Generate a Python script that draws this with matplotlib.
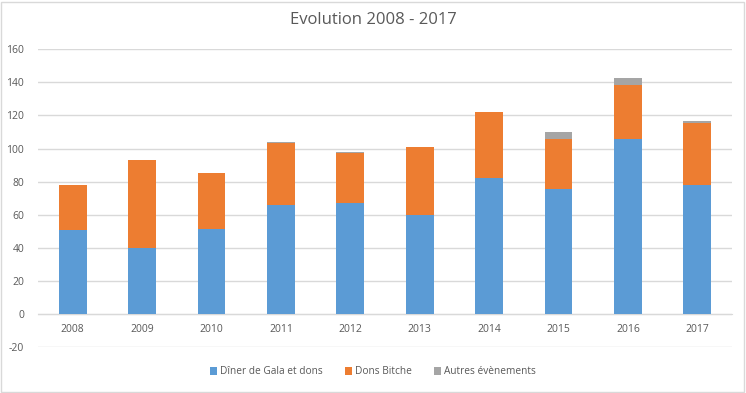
import numpy as np
import matplotlib.pyplot as plt
from matplotlib.patches import Rectangle

years = ['2008', '2009', '2010', '2011', '2012', '2013', '2014', '2015', '2016', '2017']
diner_gala = [51, 40, 51.4, 66, 67, 60, 82.4, 75.6, 105.8, 78]
dons_bitche = [27, 53, 33.8, 37.5, 30, 41, 39.7, 30.2, 32.6, 37.5]
autres = [0, 0, 0, 0.6, 0.8, 0, 0, 4.2, 4.3, 1.2]
y_ticks = [-20, 0, 20, 40, 60, 80, 100, 120, 140, 160]

plt.rcParams['font.family'] = ['Open Sans', 'DejaVu Sans']
plt.rcParams['axes.unicode_minus'] = False
text_col = '#595959'
grid_col = '#d9d9d9'

fig = plt.figure(figsize=(7.46, 3.93), dpi=100)
ax = fig.add_axes([38 / 746, 1 - 347 / 393, (732 - 38) / 746, (347 - 49.3) / 393])

x = np.arange(len(years))
w = 0.40
diner_gala = np.array(diner_gala)
dons_bitche = np.array(dons_bitche)
autres = np.array(autres)
ax.bar(x, diner_gala, w, color='#5b9bd5', label='Dîner de Gala et dons', zorder=3)
ax.bar(x, dons_bitche, w, bottom=diner_gala, color='#ed7d31', label='Dons Bitche', zorder=3)
ax.bar(x, autres, w, bottom=diner_gala + dons_bitche, color='#a5a5a5', label='Autres évènements', zorder=3)

ax.set_xlim(-0.5, len(years) - 0.5)
ax.set_ylim(-20, 160)
ax.set_yticks(y_ticks)
ax.set_xticks(x)
ax.set_xticklabels(years)
ax.yaxis.grid(True, color=grid_col, linewidth=1)
ax.set_axisbelow(True)
for s in ['top', 'right', 'left']:
    ax.spines[s].set_visible(False)
ax.spines['bottom'].set_position(('data', 0))
ax.spines['bottom'].set_color(grid_col)
ax.spines['bottom'].set_zorder(2)
ax.tick_params(axis='both', length=0, labelsize=7.5, colors=text_col)
ax.tick_params(axis='x', pad=7)
ax.tick_params(axis='y', pad=10)

fig.text(0.5, 1 - 20 / 393, 'Evolution 2008 - 2017', ha='center', va='center',
         fontsize=12, color=text_col)

ax.legend(loc='center', bbox_to_anchor=(0.5, 1 - 372 / 393), bbox_transform=fig.transFigure,
          ncol=3, frameon=False, fontsize=7.3, labelcolor=text_col,
          handlelength=0.7, handleheight=0.7, handletextpad=0.3, columnspacing=2.2)

fig.patches.append(Rectangle((0.002, 0.003), 0.995, 0.993, transform=fig.transFigure,
                             fill=False, edgecolor=grid_col, linewidth=1))

fig.savefig('out.png', dpi=100)
